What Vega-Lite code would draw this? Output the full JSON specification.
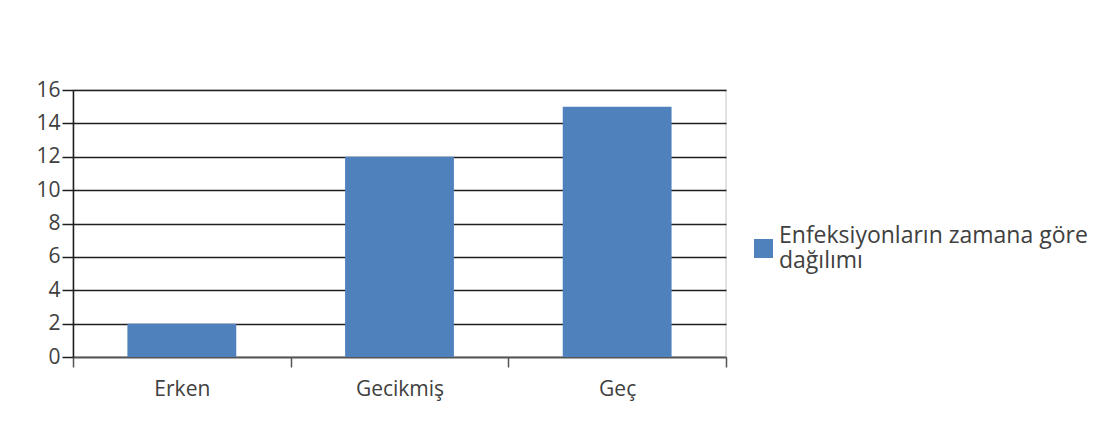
{
  "$schema": "https://vega.github.io/schema/vega-lite/v6.json",
  "autosize": "none",
  "padding": {"left": 73, "top": 90, "right": 385, "bottom": 68},
  "width": 653,
  "height": 267,
  "background": "white",
  "data": {
    "values": [
      {"donem": "Erken", "sayi": 2, "seri": "Enfeksiyonların zamana göre dağılımı"},
      {"donem": "Gecikmiş", "sayi": 12, "seri": "Enfeksiyonların zamana göre dağılımı"},
      {"donem": "Geç", "sayi": 15, "seri": "Enfeksiyonların zamana göre dağılımı"}
    ]
  },
  "mark": {"type": "bar", "width": {"band": 0.5}},
  "encoding": {
    "x": {
      "field": "donem",
      "type": "nominal",
      "sort": null,
      "scale": {"paddingInner": 0, "paddingOuter": 0},
      "axis": {
        "title": null,
        "labelAngle": 0,
        "tickBand": "extent",
        "tickSize": 10,
        "tickColor": "#555555",
        "tickWidth": 1.5,
        "domainColor": "#555555",
        "domainWidth": 1.5,
        "labelPadding": 11,
        "labelFontSize": 21,
        "labelColor": "#404040",
        "labelFont": "Open Sans"
      }
    },
    "y": {
      "field": "sayi",
      "type": "quantitative",
      "scale": {"domain": [0, 16], "nice": false},
      "axis": {
        "title": null,
        "values": [0, 2, 4, 6, 8, 10, 12, 14, 16],
        "grid": true,
        "gridColor": "#1f1f1f",
        "gridWidth": 1.5,
        "tickSize": 11,
        "tickColor": "#1f1f1f",
        "tickWidth": 1.5,
        "domainColor": "#1f1f1f",
        "domainWidth": 1.5,
        "labelPadding": 2,
        "labelFontSize": 21,
        "labelColor": "#404040",
        "labelFont": "Open Sans"
      }
    },
    "color": {
      "field": "seri",
      "type": "nominal",
      "scale": {"range": ["#4f81bd"]},
      "legend": {
        "title": null,
        "orient": "none",
        "legendX": 679,
        "legendY": 147,
        "symbolType": "square",
        "symbolSize": 361,
        "symbolStrokeWidth": 0,
        "symbolOpacity": 1,
        "labelOffset": 4,
        "labelFontSize": 23,
        "labelFont": "Open Sans",
        "labelColor": "#404040",
        "labelBaseline": "line-bottom",
        "labelLineHeight": 29,
        "labelLimit": 400,
        "labelExpr": "[substring(datum.label, 0, lastindexof(datum.label, ' ')), substring(datum.label, lastindexof(datum.label, ' ') + 1)]"
      }
    }
  },
  "config": {
    "view": {"stroke": "#d9d9d9", "strokeWidth": 1.5}
  }
}
